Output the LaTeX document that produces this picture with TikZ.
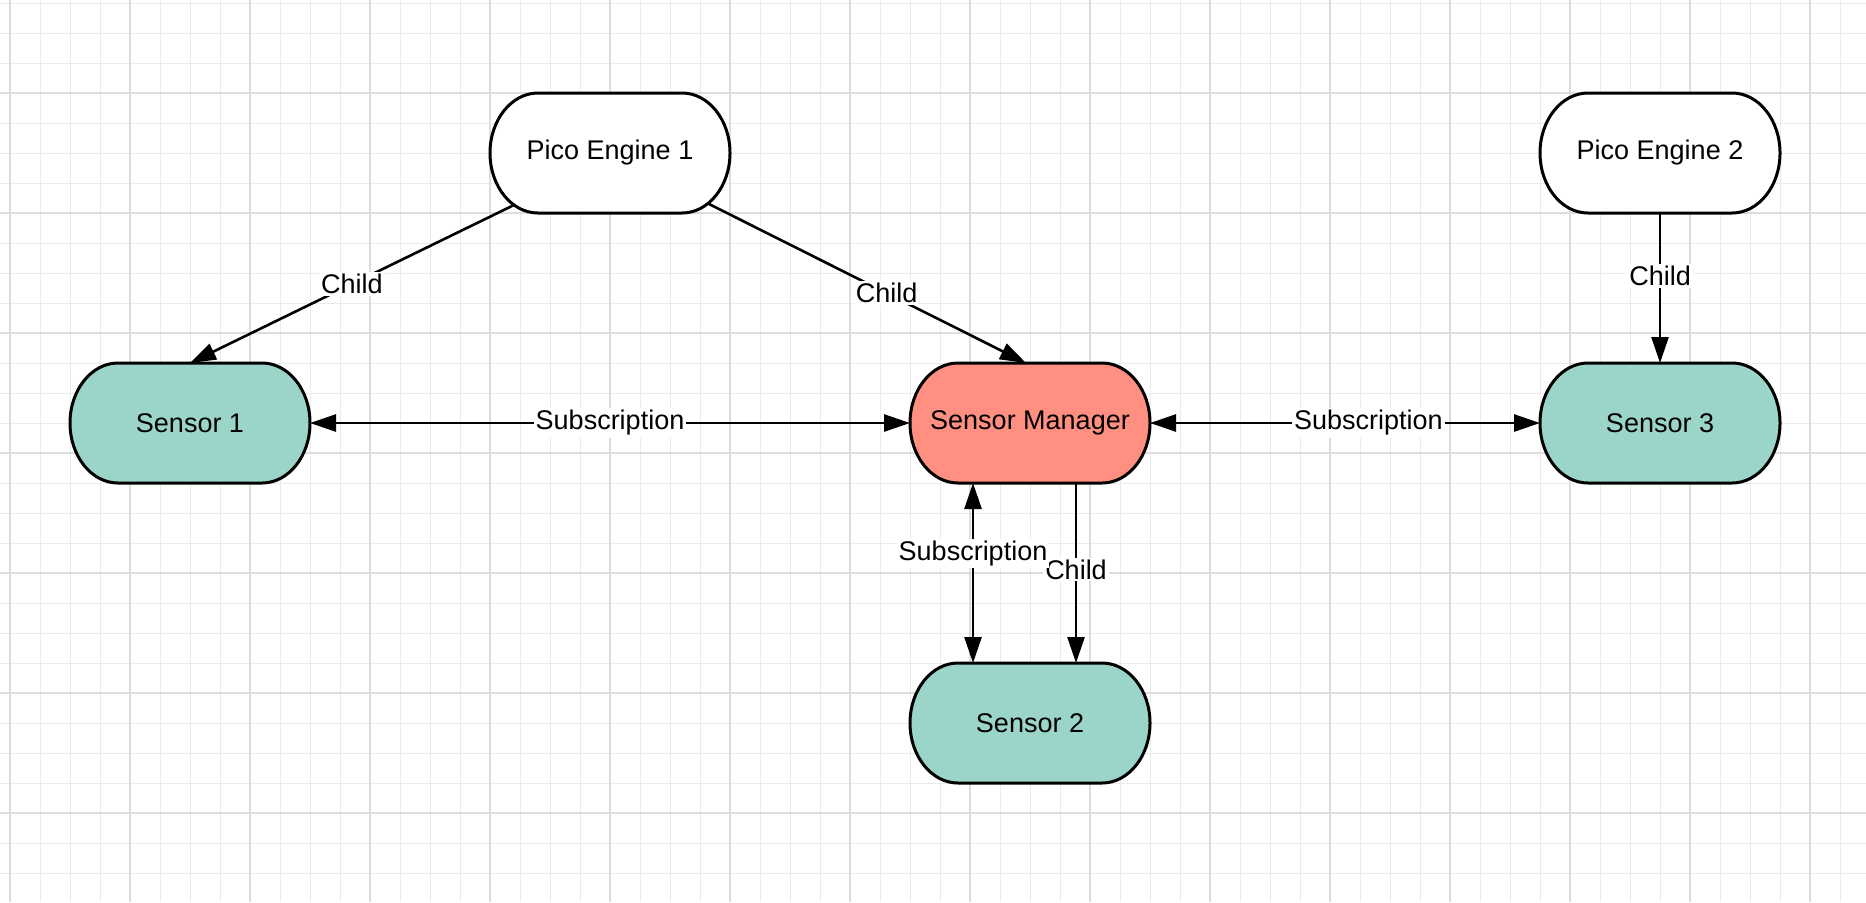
\documentclass[tikz,border=0pt]{standalone}
\usepackage{fontspec}
\setmainfont{Liberation Sans}
\usetikzlibrary{arrows.meta}

\definecolor{sensorgreen}{RGB}{155,213,201}
\definecolor{managerred}{RGB}{255,143,128}
\definecolor{minorline}{RGB}{235,235,235}
\definecolor{majorline}{RGB}{221,221,221}

\pgfdeclarelayer{grid}
\pgfdeclarelayer{shapes}
\pgfsetlayers{grid,shapes,main}

\tikzset{every picture/.style={line width=0.75pt}}
\tikzset{
  minorgrid/.style={draw=minorline, line width=0.5pt},
  majorgrid/.style={draw=majorline, line width=0.6pt},
  pico/.style={minimum width=120pt, minimum height=60pt, inner sep=0pt, outer sep=0pt,
    font=\fontsize{13.5}{16}\selectfont},
  outline/.style={draw=black, line width=1.5pt},
  link/.style={line width=1.3pt, -{Triangle[length=13pt,width=8.5pt]}},
  twoway/.style={line width=1.3pt, {Triangle[length=13pt,width=8.5pt]}-{Triangle[length=13pt,width=8.5pt]}},
  lbl/.style={fill=white, inner sep=1pt, font=\fontsize{13.5}{16}\selectfont}
}

\begin{document}
\begin{tikzpicture}[x=0.5pt,y=0.5pt,yscale=-1,xscale=1]
\useasboundingbox (0,0) rectangle (1866,902);

%Grid
\begin{pgfonlayer}{grid}
\fill[white] (0,0) rectangle (1866,902);
\foreach \gx in {10,40,...,1860} \draw[minorgrid] (\gx,0) -- (\gx,902);
\foreach \gy in {3,33,...,900} \draw[minorgrid] (0,\gy) -- (1866,\gy);
\foreach \gx in {10,130,...,1860} \draw[majorgrid] (\gx,0) -- (\gx,902);
\foreach \gy in {93,213,...,900} \draw[majorgrid] (0,\gy) -- (1866,\gy);
\end{pgfonlayer}

%Text Nodes
\node[pico] (pe1) at (610,153) {Pico Engine 1};
\node[pico] (pe2) at (1660,153) {Pico Engine 2};
\node[pico] (s1) at (190,423) {Sensor 1};
\node[pico] (sm) at (1030,423) {Sensor Manager};
\node[pico] (s3) at (1660,423) {Sensor 3};
\node[pico] (s2) at (1030,723) {Sensor 2};

%Shape: Terminators
\begin{pgfonlayer}{shapes}
\foreach \nm/\col in {pe1/white,pe2/white,s1/sensorgreen,sm/managerred,s3/sensorgreen,s2/sensorgreen}
  \draw[outline, fill=\col] ([xshift=24pt]\nm.north west) -- ([xshift=-24pt]\nm.north east)
    arc[start angle=-90, end angle=90, x radius=48, y radius=60]
    -- ([xshift=24pt]\nm.south west)
    arc[start angle=90, end angle=270, x radius=48, y radius=60] -- cycle;
\end{pgfonlayer}

%Child links
\draw[link] ([xshift=12pt,yshift=-4pt]pe1.south west) -- (s1.north)
  node[lbl, pos=0.5] {Child};
\draw[link] ([xshift=-10.5pt,yshift=-4.5pt]pe1.south east) -- ([xshift=-2pt]sm.north)
  node[lbl, pos=0.56] {Child};
\draw[link] (pe2) -- (s3)
  node[lbl, pos=0.42] {Child};
\draw[link] ([xshift=23pt]sm.south) -- ([xshift=23pt]s2.north)
  node[lbl, pos=0.48] {Child};

%Subscription links
\draw[twoway] (s1) -- (sm)
  node[lbl, pos=0.5] {Subscription};
\draw[twoway] (sm) -- (s3)
  node[lbl, pos=0.56] {Subscription};
\draw[twoway] ([xshift=-28.5pt]sm.south) -- ([xshift=-28.5pt]s2.north)
  node[lbl, pos=0.39] {Subscription};
\end{tikzpicture}
\end{document}
